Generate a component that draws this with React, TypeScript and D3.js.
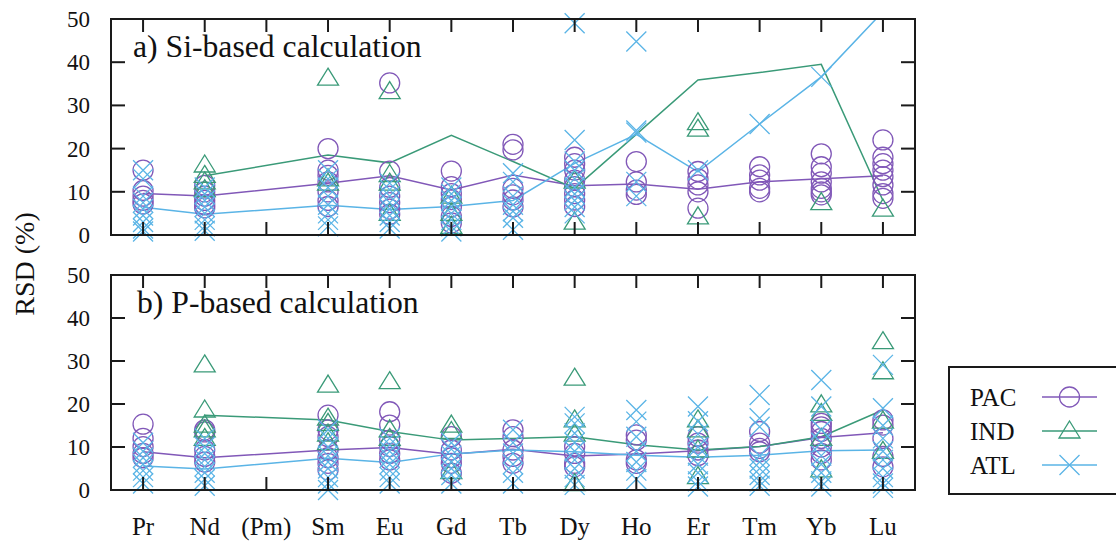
import React from "react";
import * as d3 from "d3";

// Rare earth elements along the x axis; Pm has no measurements
const elements = ["Pr", "Nd", "(Pm)", "Sm", "Eu", "Gd", "Tb", "Dy", "Ho", "Er", "Tm", "Yb", "Lu"];
const measured = ["Pr", "Nd", "Sm", "Eu", "Gd", "Tb", "Dy", "Ho", "Er", "Tm", "Yb", "Lu"];
const yTicks = [0, 10, 20, 30, 40, 50];
const seriesNames = ["PAC", "IND", "ATL"];

// a) Si-based calculation: individual RSD values per element (order of `measured`)
const siPac = [
  [15, 10.3, 9, 8, 7.2],
  [11.5, 10, 9, 8, 7, 6.3],
  [20, 15, 13.8, 12.3, 10, 8, 6.6],
  [35.2, 14.8, 11, 9, 7.5, 6, 4.8],
  [14.8, 11.2, 9.6, 8.2, 6.5, 4.3, 2.8],
  [21, 19.7, 10.8, 9.3, 8.1, 6.5],
  [18, 16.5, 15, 12.7, 11.2, 9.6, 8.1, 6.6],
  [17, 12.3, 10.4, 9.4],
  [14.7, 13, 11.6, 10, 6.2],
  [15.8, 13.9, 12.7, 10.8, 10],
  [18.8, 15.8, 14.3, 12.3, 10.8, 10, 9.3],
  [22, 18, 16.5, 15, 13.5, 11.6, 9.6, 8.5],
];
const siInd = [
  [],
  [16.2, 13.8, 12.3, 10.5],
  [36.3, 13, 12],
  [33.2, 14, 12, 5],
  [9, 5, 2],
  [],
  [12.5, 3],
  [],
  [26, 24.5, 4.2],
  [],
  [7.5],
  [6],
];
const siAtl = [
  [15, 13, 9, 7.5, 6, 4.5, 3, 1.5, 0.8],
  [11, 9.5, 8, 6.5, 5, 3.5, 2, 1],
  [15, 13, 11, 9, 7, 5, 3.5, 2],
  [12, 10.5, 9, 7.5, 6, 4.5, 3, 1.5],
  [11, 9.5, 8, 6.5, 5, 3.5, 2, 0.8],
  [14.3, 12.3, 9, 7, 5.5, 4, 1.2],
  [49, 22, 17, 15, 13, 11, 9.5, 8, 6.5, 5],
  [44.8, 24.2, 23.7, 12.3, 9],
  [15],
  [25.7],
  [36.6],
  [],
];
// a) mean RSD lines
const siPacMean = [9.6, 9.0, 12.0, 13.7, 10.4, 13.9, 11.4, 11.8, 10.6, 12.3, 13.0, 13.7];
const siIndMean = [null, 13.7, 18.5, 16.7, 23.1, 17.0, 10.8, 23.3, 35.9, 37.6, 39.5, 8.0];
const siAtlMean = [6.4, 4.8, 6.9, 5.9, 6.6, 8.0, 16.6, 23.3, 14.6, 25.7, 36.6, 51.7];

// b) P-based calculation: individual RSD values per element
const pPac = [
  [15.3, 12, 10.1, 8.5, 7.5],
  [14, 13.5, 9.3, 7.8, 6.5],
  [17.4, 14, 12.4, 9.3, 7.5, 6.2, 4.7],
  [18.2, 15.1, 11.6, 10.1, 8.5, 7],
  [12.4, 9.3, 7.5, 6.2, 3.9],
  [14, 12.4, 9.3, 7.8, 6.2],
  [10.1, 8.5, 6.2, 5.4],
  [12.8, 11.6, 7, 6.2],
  [12.4, 10.9, 9.3, 8],
  [13.6, 10.9, 9.7, 8.9],
  [15.5, 14.7, 13.6, 12, 10, 8.5, 7],
  [16.3, 15.1, 12, 7.8, 5.4],
];
const pInd = [
  [],
  [29.1, 18.6, 15.1, 14, 12],
  [24.4, 16.7, 15.5, 13, 11],
  [25.2, 14, 12],
  [15.1, 13.6, 4.3],
  [],
  [26, 16.3, 13, 1.5],
  [],
  [16.3, 14, 9.3, 3.1],
  [],
  [19.8, 17.8, 12, 4.7],
  [34.5, 27.5, 16, 9],
];
const pAtl = [
  [11, 9, 7.5, 6, 4.5, 3, 1.5],
  [12, 10, 8.5, 7, 5.5, 4, 2.5, 1],
  [14, 12, 10, 8, 6.5, 5, 3, 1.5, 0],
  [12, 10.5, 9, 7.5, 6, 4.5, 3, 1.5],
  [11, 9.5, 8, 6.5, 5, 3.5, 1.5],
  [14, 11, 8.5, 6, 4, 1.5],
  [17, 15.5, 13.2, 11, 9, 7, 5, 3, 1.2],
  [18.6, 15.9, 12.4, 9, 6.5, 4.5, 2.5],
  [19.4, 16, 13, 10, 8, 6, 4, 2, 0.8],
  [22.1, 16.7, 14.7, 8, 6.5, 5, 3.5, 2, 1],
  [25.6, 19.4, 14, 11, 8, 6, 4, 2, 0.8],
  [29.1, 19, 15, 12, 9, 7, 5, 3, 1.5, 0.5],
];
// b) mean RSD lines
const pPacMean = [8.9, 7.5, 9.3, 9.9, 8.3, 9.5, 7.9, 8.4, 9.1, 10.1, 12.2, 13.3];
const pIndMean = [null, 17.4, 16.3, 13.6, 11.6, 12.0, 12.4, 10.5, 9.3, 10.1, 12.4, 18.6];
const pAtlMean = [5.6, 4.9, 7.4, 6.4, 8.4, 9.3, 8.9, 8.1, 7.6, 8.1, 9.1, 9.3];

const colors = { PAC: "#8158b8", IND: "#3a9a78", ATL: "#5ab4e6" };
const FONT = `"Liberation Serif", "Times New Roman", serif`;
const textStyle = { fontFamily: FONT };

type Series = { name: string; points: number[][]; mean: (number | null)[] };

const panels: { title: string; top: number; bottom: number; series: Series[] }[] = [
  {
    title: "a) Si-based calculation",
    top: 19,
    bottom: 235,
    series: [
      { name: "PAC", points: siPac, mean: siPacMean },
      { name: "IND", points: siInd, mean: siIndMean },
      { name: "ATL", points: siAtl, mean: siAtlMean },
    ],
  },
  {
    title: "b) P-based calculation",
    top: 275,
    bottom: 490,
    series: [
      { name: "PAC", points: pPac, mean: pPacMean },
      { name: "IND", points: pInd, mean: pIndMean },
      { name: "ATL", points: pAtl, mean: pAtlMean },
    ],
  },
];

const LEFT = 111;
const RIGHT = 915;

function Marker({ kind, x, y, color }: { kind: string; x: number; y: number; color: string }) {
  const sw = 1.3;
  if (kind === "PAC") {
    return <circle cx={x} cy={y} r={10} fill="none" stroke={color} strokeWidth={sw} />;
  }
  if (kind === "IND") {
    const d = `M${x},${y - 10}L${x + 10.5},${y + 7}L${x - 10.5},${y + 7}Z`;
    return <path d={d} fill="none" stroke={color} strokeWidth={sw} />;
  }
  const h = 10;
  const d = `M${x - h},${y - h}L${x + h},${y + h}M${x - h},${y + h}L${x + h},${y - h}`;
  return <path d={d} fill="none" stroke={color} strokeWidth={sw} />;
}

export default function App() {
  const x = d3.scaleLinear().domain([-0.52, elements.length - 1 + 0.52]).range([LEFT, RIGHT]);
  const xOf = (el: string) => x(elements.indexOf(el));

  return (
    <svg
      width={1116}
      height={543}
      style={{ position: "absolute", left: 0, top: 0, background: "#fff", fontFamily: FONT }}
    >
      {panels.map((p, pi) => {
        const y = d3.scaleLinear().domain([0, 50]).range([p.bottom, p.top]);
        const line = d3
          .line<[number, number | null]>()
          .defined((d) => d[1] !== null)
          .x((d) => d[0])
          .y((d) => y(d[1] as number));
        const clipId = `clip-${pi}`;
        return (
          <g key={pi}>
            <defs>
              <clipPath id={clipId}>
                <rect x={LEFT} y={p.top} width={RIGHT - LEFT} height={p.bottom - p.top} />
              </clipPath>
            </defs>
            {/* mean lines */}
            {p.series.map((s) => (
              <path
                key={"l" + s.name}
                d={line(measured.map((el, i) => [xOf(el), s.mean[i]] as [number, number | null])) || ""}
                fill="none"
                stroke={(colors as any)[s.name]}
                strokeWidth={1.5}
                clipPath={`url(#${clipId})`}
              />
            ))}
            {/* individual values */}
            {p.series.map((s) => (
              <g key={"m" + s.name}>
                {measured.map((el, i) =>
                  s.points[i].map((v, j) => (
                    <Marker key={`${i}-${j}`} kind={s.name} x={xOf(el)} y={y(v)} color={(colors as any)[s.name]} />
                  ))
                )}
              </g>
            ))}
            {/* frame */}
            <rect
              x={LEFT}
              y={p.top}
              width={RIGHT - LEFT}
              height={p.bottom - p.top}
              fill="none"
              stroke="#1a1a1a"
              strokeWidth={2}
            />
            {/* x ticks, top and bottom */}
            {elements.map((el, i) => (
              <g key={"xt" + i} stroke="#1a1a1a" strokeWidth={2}>
                <line x1={x(i)} x2={x(i)} y1={p.bottom} y2={p.bottom - 13} />
                <line x1={x(i)} x2={x(i)} y1={p.top} y2={p.top + 13} />
              </g>
            ))}
            {/* y ticks, left and right */}
            {yTicks.map((t) => (
              <g key={"yt" + t}>
                <line x1={LEFT} x2={LEFT + 14} y1={y(t)} y2={y(t)} stroke="#1a1a1a" strokeWidth={2} />
                <line x1={RIGHT} x2={RIGHT - 14} y1={y(t)} y2={y(t)} stroke="#1a1a1a" strokeWidth={2} />
                <text x={90} y={y(t)} dy="0.35em" textAnchor="end" fontSize={23} fill="#111" style={textStyle}>
                  {t}
                </text>
              </g>
            ))}
            <text x={pi === 0 ? 133 : 137} y={pi === 0 ? 57 : 313} fontSize={31.7} fill="#111" style={textStyle}>
              {p.title}
            </text>
          </g>
        );
      })}

      {/* element labels */}
      {elements.map((el, i) => (
        <text key={"xl" + el} x={x(i)} y={535} textAnchor="middle" fontSize={25} fill="#111" style={textStyle}>
          {el}
        </text>
      ))}

      <text
        transform="translate(34,264) rotate(-90)"
        textAnchor="middle"
        fontSize={28}
        fill="#111"
        style={textStyle}
      >
        RSD (%)
      </text>

      {/* legend */}
      <rect x={949} y={367} width={180} height={127} fill="#fff" stroke="#1a1a1a" strokeWidth={2} />
      {seriesNames.map((name, i) => {
        const cy = 397 + i * 34;
        const c = (colors as any)[name];
        return (
          <g key={"lg" + name}>
            <text x={970} y={cy} dy="0.35em" fontSize={25} fill="#111" style={textStyle}>
              {name}
            </text>
            <line x1={1042} x2={1097} y1={cy} y2={cy} stroke={c} strokeWidth={1.5} />
            <Marker kind={name} x={1069.5} y={cy} color={c} />
          </g>
        );
      })}
    </svg>
  );
}
